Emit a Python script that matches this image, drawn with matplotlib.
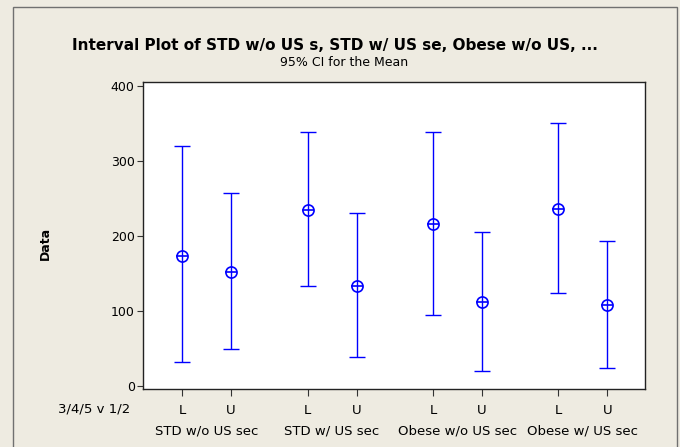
import matplotlib
matplotlib.use("Agg")
import matplotlib.pyplot as plt
from matplotlib.patches import Rectangle

groups = ["STD w/o US sec", "STD w/ US sec", "Obese w/o US sec", "Obese w/ US sec"]
levels = ["L", "U"]
means = [173.5, 152.0, 234.0, 133.6, 215.7, 112.0, 235.7, 107.4]
lower = [31.5, 49.7, 133.0, 38.6, 94.5, 20.4, 123.8, 23.5]
upper = [319.6, 256.6, 338.0, 230.0, 338.0, 205.5, 350.6, 193.0]
yticks = [0, 100, 200, 300, 400]

W, H = 680, 447
fig = plt.figure(figsize=(W / 100, H / 100), dpi=100)
bg = "#EEEBE1"
fig.patch.set_facecolor(bg)
fig.patches.append(Rectangle((13 / W, -0.1), (677 - 13) / W, 1.1 - 7 / H,
                             transform=fig.transFigure, fill=False,
                             edgecolor="#707070", linewidth=1.0))

ax = fig.add_axes([143 / W, 1 - 389 / H, (645 - 143) / W, (389 - 82) / H])
ax.set_facecolor("white")

gap = 2.56
pos = []
labs = []
for g in range(len(groups)):
    for j, lv in enumerate(levels):
        pos.append(g * gap + j)
        labs.append(lv)

blue = "#0000FF"
for x, m, lo, hi in zip(pos, means, lower, upper):
    ax.errorbar([x], [m], yerr=[[m - lo], [hi - m]], fmt="none", ecolor=blue,
                elinewidth=1.0, capsize=6, capthick=1.0)
ax.plot(pos, means, linestyle="none", marker="o", ms=8, mfc="none", mec=blue, mew=1.2)
ax.plot(pos, means, linestyle="none", marker="_", ms=8, mec=blue, mew=1.2)

ax.set_xlim(-0.80, 9.45)
ax.set_ylim(-4, 405)
ax.set_yticks(yticks)
ax.set_yticklabels([str(v) for v in yticks], fontsize=9)
ax.set_xticks(pos)
ax.set_xticklabels(labs, fontsize=9.5)
ax.tick_params(axis="x", direction="out", length=5, pad=6, colors="#333333", labelcolor="black")
ax.tick_params(axis="y", direction="out", length=4, pad=2, colors="#333333", labelcolor="black")
for s in ax.spines.values():
    s.set_color("#222222")
    s.set_linewidth(1.0)

for g, name in enumerate(groups):
    ax.text(g * gap + 0.5, -0.115, name, transform=ax.get_xaxis_transform(),
            ha="center", va="top", fontsize=9.5)
ax.text(130 / W, 1 - 409 / H, "3/4/5 v 1/2", transform=fig.transFigure,
        ha="right", va="center", fontsize=9.5)

fig.text(335 / W, 1 - 45 / H, "Interval Plot of STD w/o US s, STD w/ US se, Obese w/o US, ...",
         ha="center", va="center", fontsize=11, fontweight="bold")
fig.text(344 / W, 1 - 62 / H, "95% CI for the Mean", ha="center", va="center", fontsize=9)
fig.text(45 / W, 1 - 243 / H, "Data", rotation=90, ha="center", va="center",
         fontsize=9, fontweight="bold")

fig.savefig("out.png", dpi=100, facecolor=bg)
